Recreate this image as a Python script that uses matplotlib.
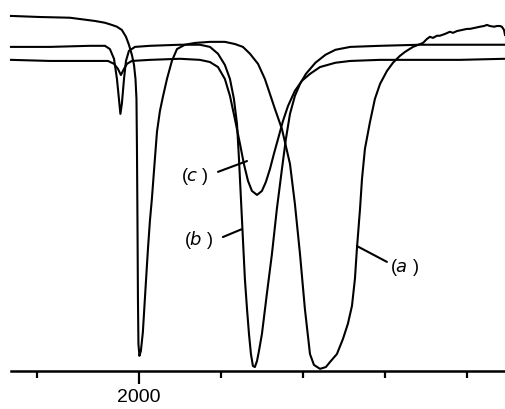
import matplotlib
matplotlib.use("Agg")
import matplotlib.pyplot as plt
from matplotlib.ticker import FixedLocator, NullFormatter

# IR spectra, wavenumber (cm-1) vs transmittance (arb. %)
wn_a = [2078.0, 2060.4, 2042.1, 2026.8, 2020.7, 2016.5, 2013.4, 2010.4, 2007.9, 2006.1,
        2004.3, 2003.0, 2002.1, 2001.5, 2001.2, 2000.9, 2000.6, 2000.3, 1999.7, 1998.8,
        1997.6, 1996.0, 1994.5, 1993.3, 1992.1, 1990.5, 1989.0, 1987.2, 1985.4, 1982.9,
        1979.9, 1976.8, 1972.0, 1965.9, 1956.7, 1947.6, 1941.5, 1936.6, 1932.3, 1927.4,
        1923.2, 1920.1, 1917.1, 1912.8, 1907.9, 1904.9, 1901.8, 1898.8, 1895.7, 1893.3,
        1889.6, 1886.0, 1883.5, 1879.3, 1875.6, 1872.6, 1870.1, 1868.3, 1867.1, 1865.2,
        1864.0, 1862.2, 1859.1, 1856.1, 1853.0, 1848.8, 1845.1, 1840.9, 1837.8, 1832.9,
        1826.8, 1824.4, 1822.6, 1820.7, 1818.3, 1816.5, 1813.4, 1810.4, 1808.5, 1806.1,
        1803.0, 1800.0, 1798.2, 1795.1, 1792.1, 1789.6, 1787.8, 1786.0, 1783.5, 1781.7,
        1779.9, 1778.7, 1777.4, 1776.8]
T_a = [98.6, 98.3, 98.1, 97.2, 96.7, 96.1, 95.6, 94.7, 92.8, 90.6,
       87.8, 85.0, 81.1, 75.6, 61.7, 42.2, 20.0, 7.5, 4.2, 5.6,
       10.8, 22.8, 33.9, 41.7, 47.8, 57.5, 66.4, 72.2, 76.1, 81.1,
       86.1, 89.4, 90.6, 91.1, 91.4, 91.4, 90.8, 90.0, 88.1, 85.3,
       81.1, 76.9, 72.8, 67.2, 57.5, 46.4, 32.5, 17.2, 4.7, 1.7,
       0.6, 1.1, 2.5, 4.7, 8.9, 13.1, 18.1, 25.6, 33.9, 45.0,
       53.3, 61.7, 69.2, 75.6, 79.7, 83.3, 85.6, 87.5, 88.6, 90.0,
       91.1, 92.2, 92.8, 92.5, 93.1, 93.1, 93.6, 94.2, 93.9, 94.4,
       94.7, 95.0, 95.0, 95.3, 95.6, 95.8, 96.1, 95.8, 95.6, 95.8,
       95.8, 95.6, 94.7, 93.3]

wn_b = [2078.0, 2054.3, 2029.9, 2020.7, 2017.7, 2015.2, 2013.4, 2012.2, 2011.3, 2010.4,
        2009.1, 2007.9, 2006.1, 2002.4, 1993.3, 1975.0, 1962.8, 1956.7, 1951.8, 1947.6,
        1944.5, 1942.1, 1940.2, 1939.0, 1937.8, 1936.6, 1935.4, 1934.1, 1932.9, 1931.7,
        1930.5, 1929.3, 1928.0, 1926.8, 1925.0, 1922.0, 1918.9, 1915.9, 1912.8, 1910.4,
        1907.9, 1904.9, 1901.8, 1898.2, 1892.4, 1886.3, 1880.2, 1871.1, 1853.0, 1828.7,
        1804.3, 1776.8]
T_b = [90.0, 90.0, 90.3, 90.3, 89.4, 86.7, 81.1, 75.6, 71.4, 74.2,
       81.1, 86.1, 88.9, 90.0, 90.3, 90.6, 90.6, 90.0, 88.1, 85.0,
       81.1, 75.6, 68.6, 58.9, 47.8, 36.7, 25.6, 17.2, 10.3, 4.7,
       1.4, 1.1, 2.8, 5.6, 10.3, 21.4, 32.5, 45.0, 56.1, 64.4,
       71.4, 76.4, 79.7, 82.5, 85.6, 87.8, 89.2, 90.0, 90.3, 90.6,
       90.6, 90.6]

wn_c = [2078.0, 2054.3, 2029.9, 2018.9, 2015.2, 2012.8, 2011.0, 2009.1, 2007.3, 2004.3,
        1993.3, 1975.0, 1962.8, 1956.7, 1951.8, 1947.6, 1944.5, 1941.5, 1938.4, 1936.0,
        1933.5, 1931.1, 1928.0, 1925.0, 1922.6, 1920.1, 1917.7, 1915.2, 1912.2, 1909.1,
        1904.9, 1900.6, 1895.7, 1889.6, 1880.2, 1871.1, 1853.0, 1828.7, 1804.3, 1776.8]
T_c = [86.4, 86.1, 86.1, 86.1, 85.3, 83.9, 82.2, 83.9, 85.3, 86.1,
       86.4, 86.7, 86.4, 85.8, 84.4, 81.1, 76.4, 70.0, 63.1, 57.5,
       52.8, 50.0, 48.9, 50.0, 52.5, 56.1, 60.3, 64.4, 69.4, 73.6,
       77.8, 80.6, 82.5, 84.4, 85.6, 86.1, 86.4, 86.4, 86.4, 86.7]

major_ticks = [2000]
minor_ticks = [2062, 1950, 1900, 1850, 1800]

fig = plt.figure(figsize=(5.05, 4.10), dpi=100)
ax = fig.add_axes([11/505, 38/410, 494/505, 372/410])

for wn, T in [(wn_a, T_a), (wn_b, T_b), (wn_c, T_c)]:
    ax.plot(wn, T, color="black", lw=1.5, clip_on=False, solid_joinstyle="round")

ax.set_xlim(2078.0, 1776.8)
ax.set_ylim(0, 103.3)

for s in ["top", "left", "right"]:
    ax.spines[s].set_visible(False)
ax.spines["bottom"].set_linewidth(1.8)
ax.set_yticks([])
ax.xaxis.set_major_locator(FixedLocator(major_ticks))
ax.xaxis.set_minor_locator(FixedLocator(minor_ticks))
ax.xaxis.set_minor_formatter(NullFormatter())
ax.tick_params(axis="x", which="major", length=9, width=1.6, pad=3,
               labelsize=14)
ax.tick_params(axis="x", which="minor", length=5, width=1.6)
for lab in ax.get_xticklabels():
    lab.set_family("Liberation Sans")

# curve labels with leader lines
lbl = dict(fontsize=13, ha="center", va="center", family="Liberation Sans")
line = dict(arrowstyle="-", color="black", lw=1.5, shrinkA=0, shrinkB=0)
ax.annotate("", xy=(1934.1, 58.3), xytext=(1951.8, 55.3), arrowprops=line)
ax.text(1965.9, 54.2, "($\\mathit{c}$ )", **lbl)
ax.annotate("", xy=(1937.2, 39.4), xytext=(1948.8, 37.2), arrowprops=line)
ax.text(1963.4, 36.7, "($\\mathit{b}$ )", **lbl)
ax.annotate("", xy=(1867.1, 34.7), xytext=(1848.8, 30.3), arrowprops=line)
ax.text(1838.4, 28.9, "($\\mathit{a}$ )", **lbl)

fig.savefig("out.png", dpi=100)
